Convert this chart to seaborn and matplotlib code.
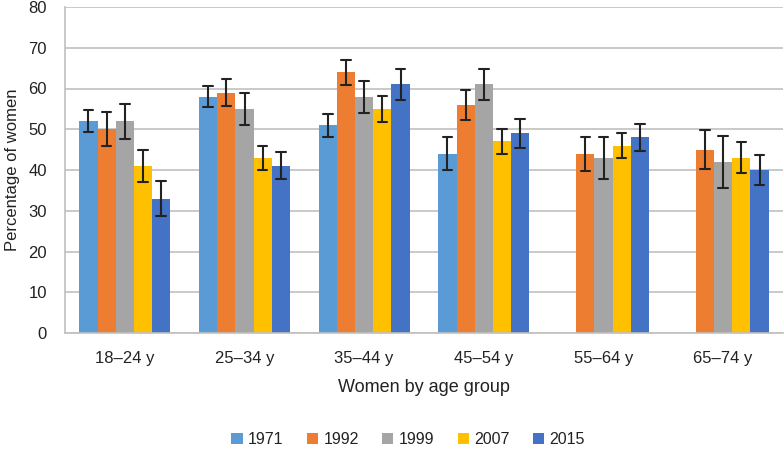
import numpy as np
import pandas as pd
import matplotlib
matplotlib.use("Agg")
import matplotlib.pyplot as plt
import seaborn as sns

categories = ["18–24 y", "25–34 y", "35–44 y", "45–54 y", "55–64 y", "65–74 y"]
years = ["1971", "1992", "1999", "2007", "2015"]
v1971 = [52, 58, 51, 44, np.nan, np.nan]
v1992 = [50, 59, 64, 56, 44, 45]
v1999 = [52, 55, 58, 61, 43, 42]
v2007 = [41, 43, 55, 47, 46, 43]
v2015 = [33, 41, 61, 49, 48, 40]
e1971 = [2.7, 2.5, 2.8, 4.0, np.nan, np.nan]
e1992 = [4.2, 3.3, 3.1, 3.7, 4.2, 4.7]
e1999 = [4.3, 3.9, 3.9, 3.9, 5.1, 6.4]
e2007 = [3.9, 3.0, 3.2, 3.0, 3.0, 3.8]
e2015 = [4.2, 3.3, 3.9, 3.6, 3.4, 3.8]
colors = ["#5B9BD5", "#ED7D31", "#A5A5A5", "#FFC000", "#4472C4"]

vals = [v1971, v1992, v1999, v2007, v2015]
errs = [e1971, e1992, e1999, e2007, e2015]
rows = []
for y, vs, es in zip(years, vals, errs):
    for c, v, e in zip(categories, vs, es):
        if np.isnan(v):
            continue
        rows.append({"group": c, "year": y, "value": v - e})
        rows.append({"group": c, "year": y, "value": v + e})
df = pd.DataFrame(rows)

sns.set_theme(style="white")
plt.rcParams["font.family"] = ["Liberation Sans", "DejaVu Sans"]

fig = plt.figure(figsize=(7.84, 4.53), dpi=100)
ax = fig.add_axes([65/784, 1 - 333/453, 718/784, 326/453])

sns.barplot(data=df, x="group", y="value", hue="year", order=categories,
            hue_order=years, palette=colors, width=0.76, gap=0,
            estimator="mean", errorbar=lambda x: (x.min(), x.max()),
            capsize=0.4, err_kws={"color": "#222222", "linewidth": 1.5},
            saturation=1, linewidth=0, edgecolor="none", ax=ax)

ax.set_ylim(0, 80)
ax.set_yticks(range(0, 81, 10))
ax.yaxis.grid(True, color="#C0C0C0", linewidth=1.2)
ax.set_axisbelow(True)
for s in ["top", "right"]:
    ax.spines[s].set_visible(False)
ax.spines["left"].set_color("#C0C0C0")
ax.spines["bottom"].set_color("#C0C0C0")
ax.spines["left"].set_linewidth(1.2)
ax.spines["bottom"].set_linewidth(1.2)

ax.set_xticks(range(len(categories)))
ax.set_xticklabels(categories)
ax.set_xticks(np.arange(-0.5, len(categories), 1), minor=True)
ax.tick_params(axis="x", which="major", length=0, pad=13, labelsize=12, colors="#222222")
ax.tick_params(axis="x", which="minor", length=5, color="#C0C0C0", width=1.2)
ax.tick_params(axis="y", length=6, width=1.2, color="#C0C0C0", pad=7,
               labelsize=12, labelcolor="#222222")
ax.set_xlim(-0.5, len(categories) - 0.5)

ax.set_xlabel("Women by age group", fontsize=13, color="#222222", labelpad=9)
ax.set_ylabel("Percentage of women", fontsize=12, color="#222222", labelpad=6)

leg = ax.legend(loc="lower center", bbox_to_anchor=(0.478, -0.395), ncol=5,
                frameon=False, fontsize=11.5, handlelength=0.7, handleheight=0.7,
                handletextpad=0.35, columnspacing=1.45, title=None)
for t in leg.get_texts():
    t.set_color("#222222")

fig.savefig("out.png", dpi=100)
